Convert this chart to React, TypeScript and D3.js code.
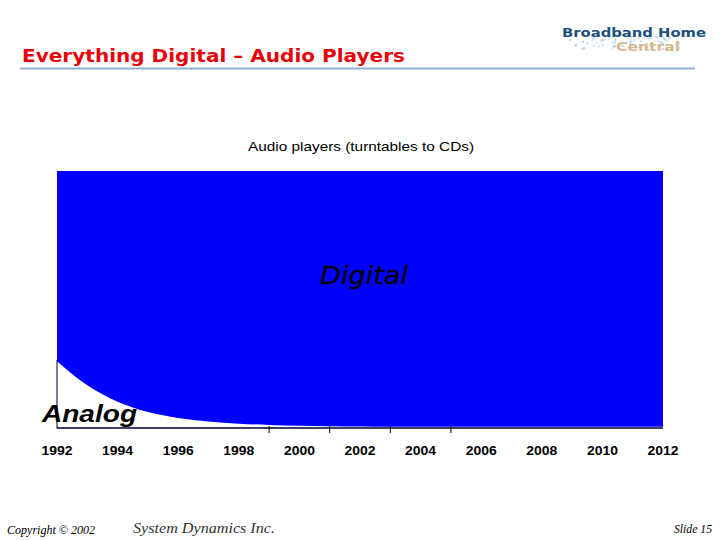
import React from "react";
import * as d3 from "d3";

const years: number[] = [1992, 1993, 1994, 1995, 1996, 1997, 1998, 1999, 2000, 2001, 2002, 2003, 2004, 2005, 2006, 2007, 2008, 2009, 2010, 2011, 2012];
const analogShare: number[] = [26, 16.6, 10.2, 6.2, 3.9, 2.5, 1.7, 1.2, 0.9, 0.7, 0.6, 0.5, 0.5, 0.5, 0.5, 0.5, 0.5, 0.5, 0.5, 0.5, 0.5];
const tickLabels: number[] = [1992, 1994, 1996, 1998, 2000, 2002, 2004, 2006, 2008, 2010, 2012];
const tickMarks: number[] = [1999, 2001, 2003, 2005];

const slideTitle = "Everything Digital \u2013 Audio Players";
const chartTitle = "Audio players (turntables to CDs)";

export default function App() {
  const x = d3.scaleLinear().domain([1992, 2012]).range([57, 663]);
  const y = d3.scaleLinear().domain([0, 100]).range([428, 171]);

  const rows = years.map((yr, i) => ({ yr, a: analogShare[i] }));

  const digitalArea = d3
    .area<{ yr: number; a: number }>()
    .x((d) => x(d.yr))
    .y0((d) => y(d.a))
    .y1(() => y(100))
    .curve(d3.curveMonotoneX);

  // logo spray dots (decorative, deterministic)
  const dots: { cx: number; cy: number; r: number }[] = [];
  for (let i = 0; i < 70; i++) {
    const t = i / 70;
    dots.push({
      cx: 575 + t * 110 + Math.sin(i * 2.3) * 8,
      cy: 42 + Math.sin(i * 1.7) * 5 + Math.cos(i * 0.9) * 3,
      r: 0.8 + (i % 3) * 0.3,
    });
  }

  return (
    <svg
      width={720}
      height={540}
      style={{ position: "absolute", left: 0, top: 0, background: "#fff" }}
      xmlns="http://www.w3.org/2000/svg"
    >
      <rect x={0} y={0} width={720} height={540} fill="#ffffff" />

      {/* Slide title */}
      <text
        x={22}
        y={62}
        fontFamily="DejaVu Sans, Verdana, sans-serif"
        fontWeight="bold"
        fontSize={18}
        fill="#e8000b"
        textLength={383}
        lengthAdjust="spacingAndGlyphs"
      >
        {slideTitle}
      </text>
      <line x1={20} x2={695} y1={68.5} y2={68.5} stroke="#8fb0d2" strokeWidth={2} />

      {/* Logo */}
      <g>
        {dots.map((d, i) => (
          <circle key={i} cx={d.cx} cy={d.cy} r={d.r} fill="#a9cbe6" opacity={0.7} />
        ))}
        <text
          x={634}
          y={37}
          textAnchor="middle"
          fontFamily="DejaVu Sans, Verdana, sans-serif"
          fontWeight="bold"
          fontSize={12.5}
          fill="#1d4f7c"
          textLength={144}
          lengthAdjust="spacingAndGlyphs"
        >
          Broadband Home
        </text>
        <text
          x={648}
          y={51}
          textAnchor="middle"
          fontFamily="DejaVu Sans, Verdana, sans-serif"
          fontWeight="bold"
          fontSize={11.5}
          fill="#d8b98c"
          textLength={64}
          lengthAdjust="spacingAndGlyphs"
        >
          Central
        </text>
      </g>

      {/* Chart title */}
      <text
        x={361}
        y={151}
        textAnchor="middle"
        fontFamily="Liberation Sans, Arial, sans-serif"
        fontSize={13.5}
        fill="#000"
        textLength={226}
        lengthAdjust="spacingAndGlyphs"
      >
        {chartTitle}
      </text>

      {/* Area */}
      <path d={digitalArea(rows) ?? ""} fill="#0000ff" />

      {/* Axes */}
      <line x1={57} x2={57} y1={y(analogShare[0]) - 1} y2={428.5} stroke="#000030" strokeWidth={1} />
      <line x1={57} x2={663} y1={428} y2={428} stroke="#000030" strokeWidth={1.5} />
      {tickMarks.map((t) => (
        <line key={t} x1={x(t)} x2={x(t)} y1={426} y2={433} stroke="#000" strokeWidth={1} />
      ))}
      {tickLabels.map((t) => (
        <text
          key={t}
          x={x(t)}
          y={455}
          textAnchor="middle"
          fontFamily="Liberation Sans, Arial, sans-serif"
          fontWeight="bold"
          fontSize={13}
          fill="#000"
          textLength={31}
          lengthAdjust="spacingAndGlyphs"
        >
          {t}
        </text>
      ))}

      {/* Labels */}
      <text
        x={320}
        y={284}
        fontFamily="DejaVu Sans, Verdana, sans-serif"
        fontStyle="italic"
        fontSize={24}
        fill="#000"
        stroke="#000"
        strokeWidth={0.3}
        textLength={88}
        lengthAdjust="spacingAndGlyphs"
      >
        Digital
      </text>
      <text
        x={42}
        y={422}
        fontFamily="Liberation Sans, Arial, sans-serif"
        fontStyle="italic"
        fontWeight="bold"
        fontSize={24}
        fill="#000"
        textLength={95}
        lengthAdjust="spacingAndGlyphs"
      >
        Analog
      </text>

      {/* Footer */}
      <text
        x={7}
        y={534}
        fontFamily="Liberation Serif, serif"
        fontStyle="italic"
        fontSize={11.5}
        fill="#000"
        textLength={88}
        lengthAdjust="spacingAndGlyphs"
      >
        Copyright © 2002
      </text>
      <text
        x={133}
        y={533}
        fontFamily="Liberation Serif, serif"
        fontStyle="italic"
        fontSize={15}
        fill="#333"
        textLength={142}
        lengthAdjust="spacingAndGlyphs"
      >
        System Dynamics Inc.
      </text>
      <text
        x={712}
        y={533}
        textAnchor="end"
        fontFamily="Liberation Serif, serif"
        fontStyle="italic"
        fontSize={11.5}
        fill="#000"
        textLength={38}
        lengthAdjust="spacingAndGlyphs"
      >
        Slide 15
      </text>
    </svg>
  );
}
